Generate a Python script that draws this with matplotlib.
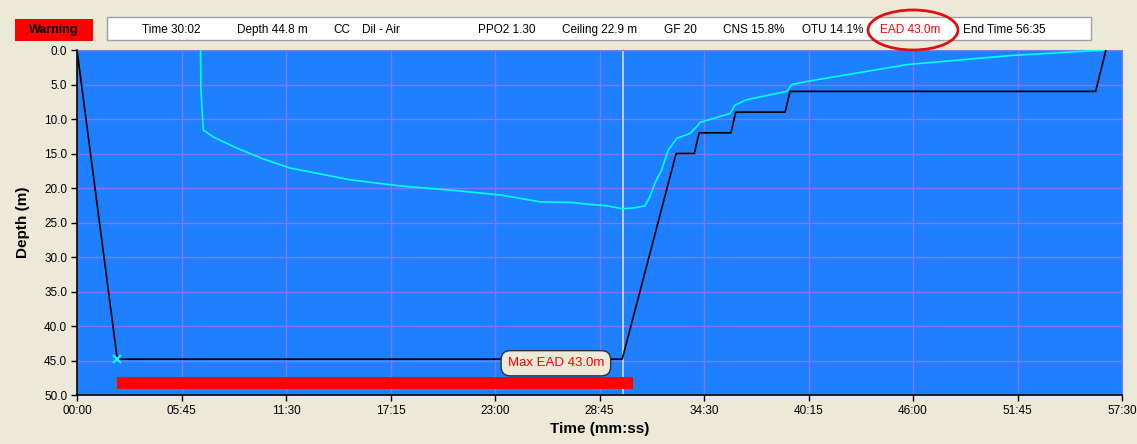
import matplotlib
matplotlib.use("Agg")
import matplotlib.pyplot as plt
from matplotlib.patches import Rectangle, Ellipse
from matplotlib.ticker import FuncFormatter, MultipleLocator

# ---------------------------------------------------------------------------
# Data (time in seconds, depth in metres)
# ---------------------------------------------------------------------------

profile_time = [0, 133, 1800, 1978, 2038, 2054, 2159, 2175, 2338, 2354, 3363, 3397]
profile_depth = [0, 44.8, 44.8, 15, 15, 12, 12, 9, 9, 6, 6, 0]

ceiling_time = [408, 409, 417, 450, 527, 610, 703, 901, 1066, 1231, 1396, 1529,
                1634, 1700, 1753, 1799, 1836, 1875, 1892, 1908, 1930, 1952, 1980,
                2024, 2046, 2057, 2156, 2172, 2211, 2343, 2360, 2417, 2743, 3083,
                3354, 3397]
ceiling_depth = [0, 5.7, 11.6, 12.6, 14.2, 15.7, 17.1, 18.8, 19.7, 20.3, 21.0, 22.0,
                 22.1, 22.4, 22.6, 23.0, 22.9, 22.6, 21.2, 19.3, 17.4, 14.5, 12.8,
                 12.1, 11.1, 10.5, 9.2, 8.0, 7.2, 6.0, 5.0, 4.5, 2.1, 0.8,
                 0.1, 0.0]

bottom_start = 133
ead_bar_end = 1834
current_time = 1802
max_ead_label = "Max EAD 43.0m"
max_ead_pos = (1581, 45.4)

header_items = [
    ("Time 30:02", 142), ("Depth 44.8 m", 237), ("CC", 333), ("Dil - Air", 362),
    ("PPO2 1.30", 478), ("Ceiling 22.9 m", 562), ("GF 20", 664),
    ("CNS 15.8%", 723), ("OTU 14.1%", 802), ("EAD 43.0m", 880),
    ("End Time 56:35", 963),
]

# ---------------------------------------------------------------------------
# Figure
# ---------------------------------------------------------------------------

W, H = 1137, 444
BG = "#ECE9D8"
fig = plt.figure(figsize=(W / 100, H / 100), dpi=100)
fig.patch.set_facecolor(BG)
plt.rcParams["font.family"] = ["Liberation Sans", "DejaVu Sans"]

ax = fig.add_axes([77 / W, 1 - 395 / H, (1122 - 77) / W, (395 - 50) / H])
ax.set_facecolor("#1E80FF")

ax.plot(profile_time, profile_depth, color="black", lw=1.2, zorder=4)
ax.plot(ceiling_time, ceiling_depth, color="#00FFFF", lw=1.2, zorder=3)
ax.plot([bottom_start], [44.8], marker="x", color="#00FFFF", ms=6, mew=1.5, zorder=5)

ax.barh(48.3, ead_bar_end - bottom_start, left=bottom_start, height=1.7,
        color="#FF0000", zorder=3)
ax.axvline(current_time, color="#D8D8F0", lw=1.2, zorder=2)

ax.text(max_ead_pos[0], max_ead_pos[1], max_ead_label, color="#FF0000", fontsize=9.5,
        ha="center", va="center", zorder=6,
        bbox=dict(boxstyle="round,pad=0.5,rounding_size=0.7", fc=BG, ec="#303030", lw=1))

ax.set_xlim(0, 3450)
ax.set_ylim(50, 0)
ax.xaxis.set_major_locator(MultipleLocator(345))
ax.yaxis.set_major_locator(MultipleLocator(5))
ax.xaxis.set_major_formatter(FuncFormatter(lambda v, p: f"{int(v) // 60:02d}:{int(v) % 60:02d}"))
ax.yaxis.set_major_formatter(FuncFormatter(lambda v, p: f"{v:.1f}"))
ax.grid(True, color="#8078F0", lw=1)
ax.set_axisbelow(True)
ax.tick_params(labelsize=8.5, length=4, width=1, color="black", pad=3)
for side in ["top", "right"]:
    ax.spines[side].set_color("#8078F0")
for side in ["left", "bottom"]:
    ax.spines[side].set_color("black")
    ax.spines[side].set_linewidth(1.2)

ax.set_xlabel("Time (mm:ss)", fontsize=11, fontweight="bold", labelpad=4)
ax.set_ylabel("Depth (m)", fontsize=11, fontweight="bold", labelpad=10)

# --- header strip ---
fig.add_artist(Rectangle((15 / W, 1 - 41 / H), 78 / W, 22 / H, transform=fig.transFigure,
                         fc="#FF0000", ec="none"))
fig.text(54 / W, 1 - 30 / H, "Warning", fontsize=9, fontweight="bold", ha="center", va="center")
fig.add_artist(Rectangle((107 / W, 1 - 40 / H), (1091 - 107) / W, 23 / H,
                         transform=fig.transFigure, fc="white", ec="#A0A0A0", lw=1))
for label, px in header_items:
    col = "#FF0000" if label.startswith("EAD") else "black"
    fig.text(px / W, 1 - 30 / H, label, fontsize=8.5, color=col, ha="left", va="center")
fig.add_artist(Ellipse((913 / W, 1 - 30 / H), 90 / W, 40 / H, transform=fig.transFigure,
                       fill=False, ec="#E01010", lw=2))

fig.savefig("out.png", dpi=100, facecolor=fig.get_facecolor())
